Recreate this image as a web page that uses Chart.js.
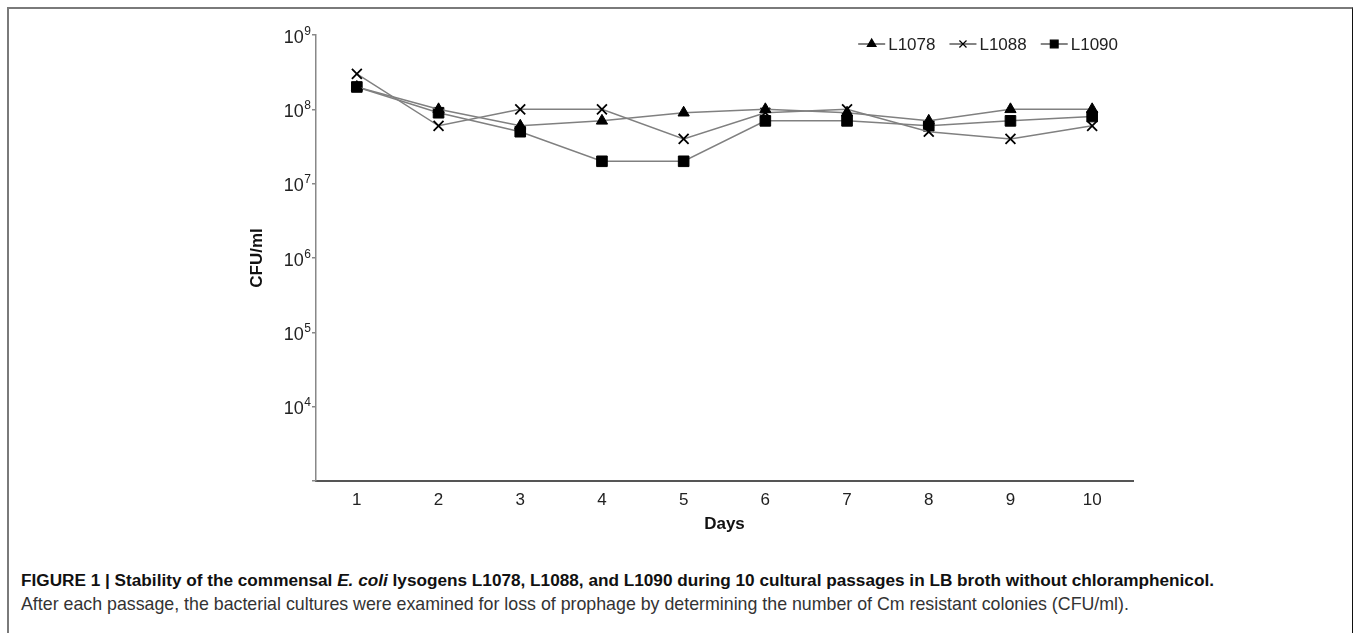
<!DOCTYPE html>
<html>
<head>
<meta charset="utf-8">
<script src="https://cdn.jsdelivr.net/npm/chart.js@4/dist/chart.umd.min.js"></script>
<style>
    html, body { margin: 0; padding: 0; background: #fff; overflow: hidden; }
    body { width: 1354px; height: 633px; position: relative; font-family: "Liberation Sans", Arial, Helvetica, sans-serif; }
    #frame {
        position: absolute; left: 7px; top: 7px; width: 1346px; height: 700px;
        box-sizing: border-box;
        border-top: 2px solid #7a7a7a; border-left: 2px solid #7a7a7a; border-right: 1px solid #111;
    }
    #chart { position: absolute; left: 0; top: 0; }
    #caption {
        position: absolute; left: 21px; top: 568px; width: 1330px;
        font-size: 17.8px; line-height: 24px; color: #333; white-space: nowrap;
    }
    #caption b { color: #111; font-size: 17.2px; }
</style>
</head>
<body>
<div id="frame"></div>
<canvas id="chart" width="1354" height="545"></canvas>
<div id="caption">
    <b>FIGURE 1 | Stability of the commensal <i>E. coli</i> lysogens L1078, L1088, and L1090 during 10 cultural passages in LB broth without chloramphenicol.</b><br>
    After each passage, the bacterial cultures were examined for loss of prophage by determining the number of Cm resistant colonies (CFU/ml).
</div>
<script>
// Days (passages)
const days = ['1', '2', '3', '4', '5', '6', '7', '8', '9', '10'];

// CFU/ml
const l1078 = [2e8, 1e8, 6e7, 7e7, 9e7, 1e8, 9e7, 7e7, 1e8, 1e8];
const l1088 = [3e8, 6e7, 1e8, 1e8, 4e7, 9e7, 1e8, 5e7, 4e7, 6e7];
const l1090 = [2e8, 9e7, 5e7, 2e7, 2e7, 7e7, 7e7, 6e7, 7e7, 8e7];

// decade ticks (labels only from 10^4 up)
const yTicks = [1e3, 1e4, 1e5, 1e6, 1e7, 1e8, 1e9];
const yLabelTicks = [1e4, 1e5, 1e6, 1e7, 1e8, 1e9];

const FONT = '"Liberation Sans", Arial, Helvetica, sans-serif';
const LINE = '#808080';

function series(label, data, style, radius, extra) {
    return Object.assign({
        label: label,
        data: data,
        borderColor: LINE,
        borderWidth: 1.5,
        pointStyle: style,
        pointRadius: radius,
        pointBackgroundColor: '#000',
        pointBorderColor: '#000',
        pointBorderWidth: 1,
        tension: 0,
        fill: false
    }, extra || {});
}

// "10" with a superscript exponent, at each decade
const powerLabels = {
    id: 'powerLabels',
    afterDraw(chart) {
        const ctx = chart.ctx;
        const scale = chart.scales.y;
        ctx.save();
        ctx.fillStyle = '#222';
        ctx.textBaseline = 'alphabetic';
        yLabelTicks.forEach(v => {
            const y = scale.getPixelForValue(v);
            const exp = String(Math.round(Math.log10(v)));
            ctx.font = '12px ' + FONT;
            const ew = ctx.measureText(exp).width;
            const right = 311;
            ctx.textAlign = 'right';
            ctx.fillText(exp, right, y - 0.5);
            ctx.font = '18px ' + FONT;
            ctx.fillText('10', right - ew - 0.5, y + 7.5);
        });
        ctx.restore();
    }
};

// line + marker legend, top right
const lineLegend = {
    id: 'lineLegend',
    afterDraw(chart) {
        const ctx = chart.ctx;
        const sets = chart.data.datasets;
        const lineW = 27, textGap = 3, itemGap = 14;
        const endX = 1118, cy = 44;
        ctx.save();
        ctx.font = '17px ' + FONT;
        const widths = sets.map(d => lineW + textGap + ctx.measureText(d.label).width);
        let x = endX - widths.reduce((a, b) => a + b, 0) - itemGap * (sets.length - 1);
        sets.forEach((d, i) => {
            ctx.strokeStyle = '#333';
            ctx.lineWidth = 1.2;
            ctx.beginPath();
            ctx.moveTo(x, cy);
            ctx.lineTo(x + lineW, cy);
            ctx.stroke();
            ctx.fillStyle = '#000';
            ctx.strokeStyle = '#000';
            Chart.helpers.drawPoint(ctx, {
                pointStyle: d.pointStyle,
                radius: d.pointStyle === 'rect' ? 5.5 : 5,
                borderWidth: d.pointStyle === 'crossRot' ? 1.3 : 1,
                rotation: 0
            }, x + lineW / 2, cy);
            ctx.fillStyle = '#222';
            ctx.textAlign = 'left';
            ctx.textBaseline = 'middle';
            ctx.fillText(d.label, x + lineW + textGap, cy + 1);
            x += widths[i] + itemGap;
        });
        ctx.restore();
    }
};

const ctx = document.getElementById('chart').getContext('2d');
new Chart(ctx, {
    type: 'line',
    data: {
        labels: days,
        datasets: [
            series('L1078', l1078, 'triangle', 6.5),
            series('L1088', l1088, 'crossRot', 7, { pointBorderWidth: 1.8 }),
            series('L1090', l1090, 'rect', 7.5)
        ]
    },
    options: {
        responsive: false,
        devicePixelRatio: 1,
        animation: false,
        layout: {
            padding: { top: 35, right: 221, bottom: 0, left: 0 }
        },
        plugins: {
            legend: { display: false },
            tooltip: { enabled: false }
        },
        scales: {
            x: {
                type: 'category',
                offset: true,
                afterFit: s => { s.height = 64; },
                border: { color: '#555', width: 2 },
                grid: { display: false, drawTicks: false },
                ticks: {
                    padding: 9,
                    color: '#222',
                    autoSkip: false,
                    maxRotation: 0,
                    font: { family: FONT, size: 17 }
                },
                title: {
                    display: true,
                    text: 'Days',
                    color: '#111',
                    font: { family: FONT, size: 17, weight: 'bold' },
                    padding: { top: 0, bottom: 10 }
                }
            },
            y: {
                type: 'logarithmic',
                min: 1e3,
                max: 1e9,
                afterBuildTicks: s => { s.ticks = yTicks.map(v => ({ value: v })); },
                afterFit: s => { s.width = 316; },
                border: { color: '#888', width: 1.5 },
                grid: { drawOnChartArea: false, drawTicks: true, tickLength: 4, color: '#888', lineWidth: 1.5 },
                ticks: { display: false },
                title: {
                    display: true,
                    text: 'CFU/ml',
                    color: '#111',
                    font: { family: FONT, size: 17, weight: 'bold' },
                    padding: { top: 247, bottom: 0 }
                }
            }
        }
    },
    plugins: [powerLabels, lineLegend]
});
</script>
</body>
</html>
